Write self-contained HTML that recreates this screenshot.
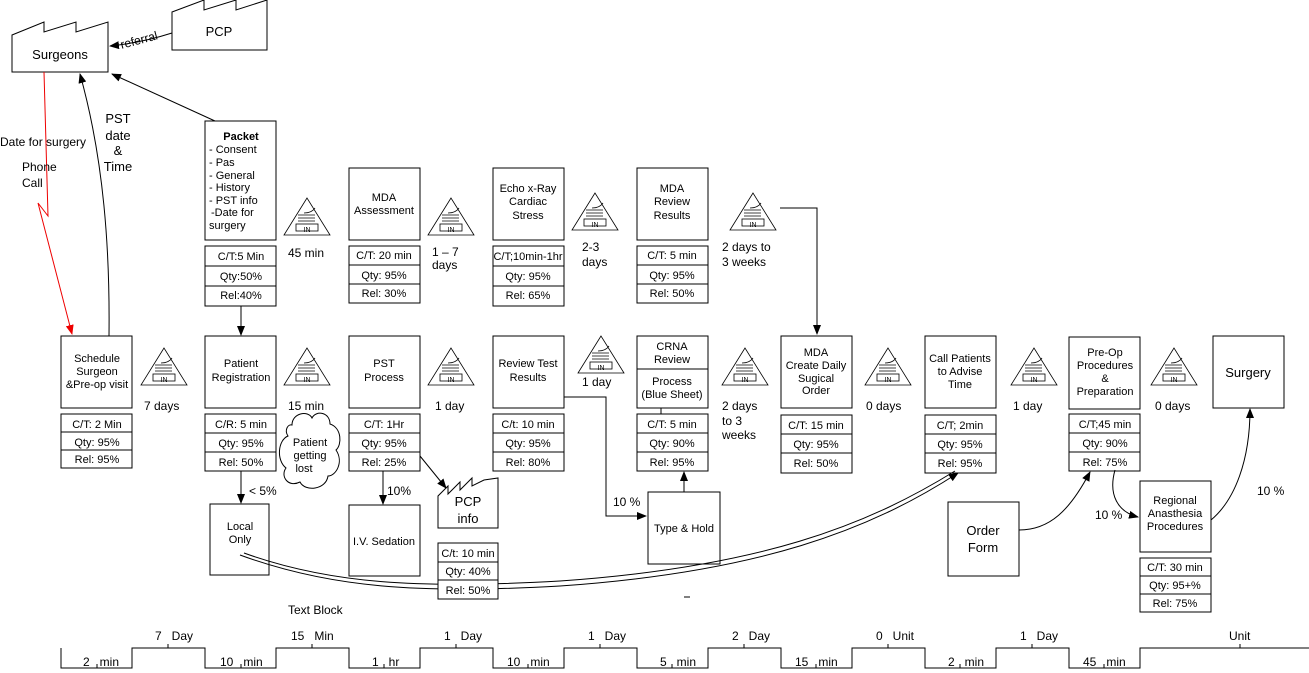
<!DOCTYPE html>
<html><head><meta charset="utf-8"><style>
html,body{margin:0;padding:0;background:#fff;}
svg{display:block;font-family:"Liberation Sans",sans-serif;}
.pre{white-space:pre;}
</style></head><body>
<svg width="1309" height="673" viewBox="0 0 1309 673" xmlns="http://www.w3.org/2000/svg">
<defs>
<marker id="a" markerWidth="10" markerHeight="8" refX="9" refY="4" orient="auto" markerUnits="userSpaceOnUse"><path d="M0,0 L10,4 L0,8 z" fill="#000"/></marker>
<marker id="r" markerWidth="10" markerHeight="8" refX="9" refY="4" orient="auto" markerUnits="userSpaceOnUse"><path d="M0,0 L10,4 L0,8 z" fill="#e00"/></marker>
</defs>
<g fill="none" stroke="#000" stroke-width="1">
<path d="M12,72 L12,35 L44,22 L44,32 L76,22 L76,32 L108,22 L108,72 Z" fill="#fff"/>
<path d="M172,50 L172,12 L204,0 L204,10 L236,0 L236,10 L267,0 L267,50 Z" fill="#fff"/>
<path d="M438,528 L438,496 L448,486 L448,494 L460,482 L460,490 L472,478 L472,486 L484,480 L498,478 L498,528 Z" fill="#fff"/>
<rect x="205" y="121" width="71" height="119"/>
<rect x="349" y="168" width="71" height="72"/>
<rect x="493" y="168" width="71" height="72"/>
<rect x="637" y="168" width="71" height="72"/>
<rect x="205" y="246" width="71" height="60"/><line x1="205" y1="266" x2="276" y2="266"/><line x1="205" y1="286" x2="276" y2="286"/>
<rect x="349" y="246" width="71" height="57"/><line x1="349" y1="265" x2="420" y2="265"/><line x1="349" y1="284" x2="420" y2="284"/>
<rect x="493" y="246" width="71" height="60"/><line x1="493" y1="266" x2="564" y2="266"/><line x1="493" y1="286" x2="564" y2="286"/>
<rect x="637" y="246" width="71" height="57"/><line x1="637" y1="265" x2="708" y2="265"/><line x1="637" y1="284" x2="708" y2="284"/>
<rect x="61" y="336" width="71" height="72"/>
<rect x="205" y="336" width="71" height="72"/>
<rect x="349" y="336" width="71" height="72"/>
<rect x="493" y="336" width="71" height="72"/>
<rect x="637" y="336" width="71" height="72"/><line x1="637" y1="369" x2="708" y2="369"/>
<rect x="781" y="336" width="71" height="72"/>
<rect x="925" y="336" width="71" height="72"/>
<rect x="1069" y="337" width="71" height="72"/>
<rect x="1213" y="336" width="71" height="72"/>
<rect x="61" y="414" width="71" height="54"/><line x1="61" y1="432" x2="132" y2="432"/><line x1="61" y1="450" x2="132" y2="450"/>
<rect x="205" y="414" width="71" height="57"/><line x1="205" y1="433" x2="276" y2="433"/><line x1="205" y1="452" x2="276" y2="452"/>
<rect x="349" y="414" width="71" height="57"/><line x1="349" y1="433" x2="420" y2="433"/><line x1="349" y1="452" x2="420" y2="452"/>
<rect x="493" y="414" width="71" height="57"/><line x1="493" y1="433" x2="564" y2="433"/><line x1="493" y1="452" x2="564" y2="452"/>
<rect x="637" y="414" width="71" height="57"/><line x1="637" y1="433" x2="708" y2="433"/><line x1="637" y1="452" x2="708" y2="452"/>
<line x1="661" y1="408" x2="661" y2="414"/>
<rect x="781" y="415" width="71" height="58"/><line x1="781" y1="434" x2="852" y2="434"/><line x1="781" y1="453" x2="852" y2="453"/>
<rect x="925" y="415" width="71" height="58"/><line x1="925" y1="434" x2="996" y2="434"/><line x1="925" y1="453" x2="996" y2="453"/>
<rect x="1069" y="414" width="71" height="57"/><line x1="1069" y1="433" x2="1140" y2="433"/><line x1="1069" y1="452" x2="1140" y2="452"/>
<rect x="210" y="504" width="59" height="71"/>
<rect x="349" y="505" width="71" height="71"/>
<rect x="648" y="492" width="72" height="72"/>
<rect x="948" y="502" width="71" height="74"/>
<rect x="1140" y="481" width="71" height="71"/>
<rect x="1140" y="558" width="71" height="54"/><line x1="1140" y1="576" x2="1211" y2="576"/><line x1="1140" y1="594" x2="1211" y2="594"/>
<path d="M292,425 C292,413 308,410 312,418 C316,410 330,412 330,424 C342,428 342,445 336,450 C344,462 336,476 328,476 C326,490 305,492 300,482 C288,488 280,476 286,468 C276,460 278,440 288,436 C284,430 288,424 292,425 Z" fill="#fff"/>
<path d="M172,33 C150,40 130,44 110,46" marker-end="url(#a)"/>
<line x1="215" y1="121" x2="112" y2="74" marker-end="url(#a)"/>
<path d="M44,72 L48,216 L38,203 L72,334" stroke="#e00" marker-end="url(#r)"/>
<path d="M109,336 C110,250 104,160 80,74" marker-end="url(#a)"/>
<line x1="241" y1="306" x2="241" y2="335" marker-end="url(#a)"/>
<path d="M780,208 L817,208 L817,334" marker-end="url(#a)"/>
<line x1="241" y1="471" x2="241" y2="503" marker-end="url(#a)"/>
<line x1="383" y1="471" x2="383" y2="504" marker-end="url(#a)"/>
<line x1="420" y1="456" x2="446" y2="488" marker-end="url(#a)"/>
<path d="M564,397 L606,397 L606,516 L646,516" marker-end="url(#a)"/>
<line x1="684" y1="492" x2="684" y2="472" marker-end="url(#a)"/>
<path d="M240,555 C330,588 420,594 560,586 C760,572 870,530 958,473" marker-end="url(#a)"/>
<path d="M244,553 C330,584 420,589 560,581 C760,567 866,526 955,471"/>
<rect x="438" y="543" width="60" height="56" fill="#fff"/><line x1="438" y1="562" x2="498" y2="562"/><line x1="438" y1="580" x2="498" y2="580"/>
<path d="M1019,530 C1050,530 1070,510 1090,472" marker-end="url(#a)"/>
<path d="M1115,470 C1108,495 1118,512 1138,517" marker-end="url(#a)"/>
<path d="M1211,520 C1235,500 1250,460 1250,409" marker-end="url(#a)"/>
<line x1="684" y1="597" x2="690" y2="597"/>
<path d="M61,648 L61,668 L132,668 L132,648 L205,648 L205,668 L276,668 L276,648 L349,648 L349,668 L420,668 L420,648 L493,648 L493,668 L564,668 L564,648 L637,648 L637,668 L708,668 L708,648 L781,648 L781,668 L852,668 L852,648 L925,648 L925,668 L996,668 L996,648 L1069,648 L1069,668 L1140,668 L1140,648 L1309,648"/>
<line x1="97" y1="664" x2="97" y2="668"/><line x1="168" y1="648" x2="168" y2="644"/>
<line x1="241" y1="664" x2="241" y2="668"/><line x1="312" y1="648" x2="312" y2="644"/>
<line x1="384" y1="664" x2="384" y2="668"/><line x1="456" y1="648" x2="456" y2="644"/>
<line x1="528" y1="664" x2="528" y2="668"/><line x1="600" y1="648" x2="600" y2="644"/>
<line x1="672" y1="664" x2="672" y2="668"/><line x1="744" y1="648" x2="744" y2="644"/>
<line x1="816" y1="664" x2="816" y2="668"/><line x1="888" y1="648" x2="888" y2="644"/>
<line x1="960" y1="664" x2="960" y2="668"/><line x1="1032" y1="648" x2="1032" y2="644"/>
<line x1="1104" y1="664" x2="1104" y2="668"/><line x1="1240" y1="648" x2="1240" y2="644"/>
</g>
<g fill="none" stroke="#000" stroke-width="0.8">
<g transform="translate(307,198)"><path d="M0,0 L-23,37 L23,37 Z" fill="#fff"/><line x1="-9" y1="17" x2="8" y2="17"/><line x1="-9" y1="20" x2="8" y2="20"/><line x1="-9" y1="23" x2="8" y2="23"/><path d="M-3,15 C3,15 6,13 8,10"/><rect x="-11" y="26" width="22" height="7"/></g>
<g transform="translate(451,198)"><path d="M0,0 L-23,37 L23,37 Z" fill="#fff"/><line x1="-9" y1="17" x2="8" y2="17"/><line x1="-9" y1="20" x2="8" y2="20"/><line x1="-9" y1="23" x2="8" y2="23"/><path d="M-3,15 C3,15 6,13 8,10"/><rect x="-11" y="26" width="22" height="7"/></g>
<g transform="translate(595,193)"><path d="M0,0 L-23,37 L23,37 Z" fill="#fff"/><line x1="-9" y1="17" x2="8" y2="17"/><line x1="-9" y1="20" x2="8" y2="20"/><line x1="-9" y1="23" x2="8" y2="23"/><path d="M-3,15 C3,15 6,13 8,10"/><rect x="-11" y="26" width="22" height="7"/></g>
<g transform="translate(753,193)"><path d="M0,0 L-23,37 L23,37 Z" fill="#fff"/><line x1="-9" y1="17" x2="8" y2="17"/><line x1="-9" y1="20" x2="8" y2="20"/><line x1="-9" y1="23" x2="8" y2="23"/><path d="M-3,15 C3,15 6,13 8,10"/><rect x="-11" y="26" width="22" height="7"/></g>
<g transform="translate(164,348)"><path d="M0,0 L-23,37 L23,37 Z" fill="#fff"/><line x1="-9" y1="17" x2="8" y2="17"/><line x1="-9" y1="20" x2="8" y2="20"/><line x1="-9" y1="23" x2="8" y2="23"/><path d="M-3,15 C3,15 6,13 8,10"/><rect x="-11" y="26" width="22" height="7"/></g>
<g transform="translate(307,348)"><path d="M0,0 L-23,37 L23,37 Z" fill="#fff"/><line x1="-9" y1="17" x2="8" y2="17"/><line x1="-9" y1="20" x2="8" y2="20"/><line x1="-9" y1="23" x2="8" y2="23"/><path d="M-3,15 C3,15 6,13 8,10"/><rect x="-11" y="26" width="22" height="7"/></g>
<g transform="translate(451,348)"><path d="M0,0 L-23,37 L23,37 Z" fill="#fff"/><line x1="-9" y1="17" x2="8" y2="17"/><line x1="-9" y1="20" x2="8" y2="20"/><line x1="-9" y1="23" x2="8" y2="23"/><path d="M-3,15 C3,15 6,13 8,10"/><rect x="-11" y="26" width="22" height="7"/></g>
<g transform="translate(601,336)"><path d="M0,0 L-23,37 L23,37 Z" fill="#fff"/><line x1="-9" y1="17" x2="8" y2="17"/><line x1="-9" y1="20" x2="8" y2="20"/><line x1="-9" y1="23" x2="8" y2="23"/><path d="M-3,15 C3,15 6,13 8,10"/><rect x="-11" y="26" width="22" height="7"/></g>
<g transform="translate(745,348)"><path d="M0,0 L-23,37 L23,37 Z" fill="#fff"/><line x1="-9" y1="17" x2="8" y2="17"/><line x1="-9" y1="20" x2="8" y2="20"/><line x1="-9" y1="23" x2="8" y2="23"/><path d="M-3,15 C3,15 6,13 8,10"/><rect x="-11" y="26" width="22" height="7"/></g>
<g transform="translate(888,348)"><path d="M0,0 L-23,37 L23,37 Z" fill="#fff"/><line x1="-9" y1="17" x2="8" y2="17"/><line x1="-9" y1="20" x2="8" y2="20"/><line x1="-9" y1="23" x2="8" y2="23"/><path d="M-3,15 C3,15 6,13 8,10"/><rect x="-11" y="26" width="22" height="7"/></g>
<g transform="translate(1034,348)"><path d="M0,0 L-23,37 L23,37 Z" fill="#fff"/><line x1="-9" y1="17" x2="8" y2="17"/><line x1="-9" y1="20" x2="8" y2="20"/><line x1="-9" y1="23" x2="8" y2="23"/><path d="M-3,15 C3,15 6,13 8,10"/><rect x="-11" y="26" width="22" height="7"/></g>
<g transform="translate(1174,348)"><path d="M0,0 L-23,37 L23,37 Z" fill="#fff"/><line x1="-9" y1="17" x2="8" y2="17"/><line x1="-9" y1="20" x2="8" y2="20"/><line x1="-9" y1="23" x2="8" y2="23"/><path d="M-3,15 C3,15 6,13 8,10"/><rect x="-11" y="26" width="22" height="7"/></g>
</g>
<g font-size="7" text-anchor="middle" fill="#000">
<text x="307" y="232">IN</text><text x="451" y="232">IN</text><text x="595" y="227">IN</text><text x="753" y="227">IN</text>
<text x="164" y="382">IN</text><text x="307" y="382">IN</text><text x="451" y="382">IN</text><text x="601" y="370">IN</text>
<text x="745" y="382">IN</text><text x="888" y="382">IN</text><text x="1034" y="382">IN</text><text x="1174" y="382">IN</text>
</g>
<g font-size="11" fill="#000" text-anchor="middle">
<text x="60" y="59" font-size="13">Surgeons</text>
<text x="219" y="36" font-size="13">PCP</text>
<text x="140" y="44" font-size="12" transform="rotate(-15 140 44)">referral</text>
<text x="241" y="140" font-weight="bold">Packet</text>
<g text-anchor="start"><text x="209" y="153">- Consent</text><text x="209" y="166">- Pas</text><text x="209" y="179">- General</text><text x="209" y="191">- History</text><text x="209" y="204">- PST info</text><text x="211" y="216">-Date for</text><text x="209" y="229">surgery</text></g>
<text x="241" y="260">C/T:5 Min</text><text x="241" y="280">Qty:50%</text><text x="241" y="299">Rel:40%</text>
<text x="384" y="201">MDA</text><text x="384" y="214">Assessment</text>
<text x="384" y="259">C/T: 20 min</text><text x="384" y="279">Qty: 95%</text><text x="384" y="297">Rel: 30%</text>
<text x="528" y="192">Echo x-Ray</text><text x="528" y="205">Cardiac</text><text x="528" y="219">Stress</text>
<text x="528" y="260">C/T;10min-1hr</text><text x="528" y="280">Qty: 95%</text><text x="528" y="299">Rel: 65%</text>
<text x="672" y="192">MDA</text><text x="672" y="205">Review</text><text x="672" y="219">Results</text>
<text x="672" y="259">C/T: 5 min</text><text x="672" y="279">Qty: 95%</text><text x="672" y="297">Rel: 50%</text>
<g font-size="12" text-anchor="start">
<text x="288" y="257">45 min</text><text x="432" y="256">1 – 7</text><text x="432" y="269">days</text>
<text x="582" y="251">2-3</text><text x="582" y="266">days</text>
<text x="722" y="251">2 days to</text><text x="722" y="266">3 weeks</text>
<text x="0" y="146">Date for surgery</text>
<text x="22" y="171">Phone</text><text x="22" y="187">Call</text>
<text x="144" y="410">7 days</text><text x="288" y="410">15 min</text><text x="435" y="410">1 day</text><text x="582" y="386">1 day</text>
<text x="722" y="410">2 days</text><text x="722" y="425">to 3</text><text x="722" y="439">weeks</text>
<text x="866" y="410">0 days</text><text x="1013" y="410">1 day</text><text x="1155" y="410">0 days</text>
<text x="249" y="495">&lt; 5%</text><text x="387" y="495">10%</text><text x="613" y="506">10 %</text>
<text x="1095" y="519">10 %</text><text x="1257" y="495">10 %</text>
<text x="288" y="614">Text Block</text>
</g>
<g font-size="13"><text x="118" y="123">PST</text><text x="118" y="140">date</text><text x="118" y="155">&amp;</text><text x="118" y="171">Time</text></g>
<text x="97" y="362">Schedule</text><text x="97" y="375">Surgeon</text><text x="97" y="388">&amp;Pre-op visit</text>
<text x="97" y="428">C/T: 2 Min</text><text x="97" y="446">Qty: 95%</text><text x="97" y="463">Rel: 95%</text>
<text x="241" y="367">Patient</text><text x="241" y="381">Registration</text>
<text x="241" y="428">C/R: 5 min</text><text x="241" y="447">Qty: 95%</text><text x="241" y="466">Rel: 50%</text>
<text x="384" y="367">PST</text><text x="384" y="381">Process</text>
<text x="384" y="428">C/T: 1Hr</text><text x="384" y="447">Qty: 95%</text><text x="384" y="466">Rel: 25%</text>
<text x="528" y="367">Review Test</text><text x="528" y="381">Results</text>
<text x="528" y="428">C/t: 10 min</text><text x="528" y="447">Qty: 95%</text><text x="528" y="466">Rel: 80%</text>
<text x="672" y="350">CRNA</text><text x="672" y="363">Review</text><text x="672" y="385">Process</text><text x="672" y="398">(Blue Sheet)</text>
<text x="672" y="428">C/T: 5 min</text><text x="672" y="447">Qty: 90%</text><text x="672" y="466">Rel: 95%</text>
<text x="816" y="356">MDA</text><text x="816" y="369">Create Daily</text><text x="816" y="382">Sugical</text><text x="816" y="394">Order</text>
<text x="816" y="429">C/T: 15 min</text><text x="816" y="448">Qty: 95%</text><text x="816" y="467">Rel: 50%</text>
<text x="960" y="362">Call Patients</text><text x="960" y="375">to Advise</text><text x="960" y="388">Time</text>
<text x="960" y="429">C/T; 2min</text><text x="960" y="448">Qty: 95%</text><text x="960" y="467">Rel: 95%</text>
<text x="1105" y="356">Pre-Op</text><text x="1105" y="369">Procedures</text><text x="1105" y="382">&amp;</text><text x="1105" y="395">Preparation</text>
<text x="1105" y="428">C/T;45 min</text><text x="1105" y="447">Qty: 90%</text><text x="1105" y="466">Rel: 75%</text>
<text x="1248" y="377" font-size="13">Surgery</text>
<text x="310" y="446">Patient</text><text x="310" y="459">getting</text><text x="304" y="472">lost</text>
<text x="240" y="530">Local</text><text x="240" y="543">Only</text>
<text x="384" y="545">I.V. Sedation</text>
<text x="468" y="506" font-size="13">PCP</text><text x="468" y="523" font-size="13">info</text>
<text x="468" y="557">C/t: 10 min</text><text x="468" y="575">Qty: 40%</text><text x="468" y="594">Rel: 50%</text>
<text x="684" y="532">Type &amp; Hold</text>
<text x="983" y="535" font-size="13">Order</text><text x="983" y="552" font-size="13">Form</text>
<text x="1175" y="504">Regional</text><text x="1175" y="517">Anasthesia</text><text x="1175" y="530">Procedures</text>
<text x="1175" y="571">C/T: 30 min</text><text x="1175" y="589">Qty: 95+%</text><text x="1175" y="607">Rel: 75%</text>
</g>
<g font-size="12" fill="#000">
<text x="83" y="666" class="pre">2   min</text><text x="155" y="640" class="pre">7   Day</text>
<text x="220" y="666" class="pre">10   min</text><text x="291" y="640" class="pre">15   Min</text>
<text x="372" y="666" class="pre">1   hr</text><text x="444" y="640" class="pre">1   Day</text>
<text x="507" y="666" class="pre">10   min</text><text x="588" y="640" class="pre">1   Day</text>
<text x="660" y="666" class="pre">5   min</text><text x="732" y="640" class="pre">2   Day</text>
<text x="795" y="666" class="pre">15   min</text><text x="876" y="640" class="pre">0   Unit</text>
<text x="948" y="666" class="pre">2   min</text><text x="1020" y="640" class="pre">1   Day</text>
<text x="1083" y="666" class="pre">45   min</text><text x="1229" y="640">Unit</text>
</g>
</svg>
</body></html>
